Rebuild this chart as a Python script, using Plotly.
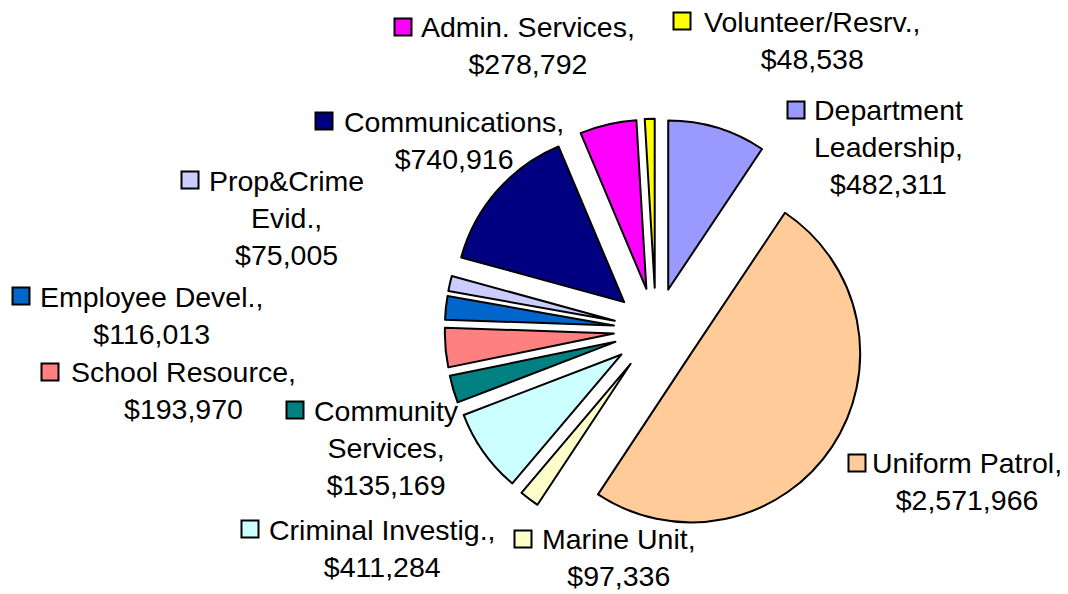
import plotly.graph_objects as go

# Police department budget by division (clockwise from 12 o'clock)
divisions = [
    "Department Leadership", "Uniform Patrol", "Marine Unit", "Criminal Investig.",
    "Community Services", "School Resource", "Employee Devel.", "Prop&Crime Evid.",
    "Communications", "Admin. Services", "Volunteer/Resrv.",
]
budget = [482311, 2571966, 97336, 411284, 135169, 193970, 116013, 75005,
          740916, 278792, 48538]
colors = ["#9999FF", "#FFCC99", "#FFFFCC", "#CCFFFF", "#008080", "#FF8080",
          "#0066CC", "#CCCCFF", "#000080", "#FF00FF", "#FFFF00"]

# Wrapped division names used in the outside labels
label_names = [
    "Department<br>Leadership", "Uniform Patrol", "Marine Unit", "Criminal Investig.",
    "Community<br>Services", "School Resource", "Employee Devel.", "Prop&Crime<br>Evid.",
    "Communications", "Admin. Services", "Volunteer/Resrv.",
]

# Label placement in pixels: text centre (x, y) and key square centre (x, y)
W, H = 1068, 594
label_layout = [
    (888, 147, 796, 110),
    (967, 481, 857, 463),
    (619, 557, 523, 539),
    (382, 548, 250, 529),
    (386, 448, 295, 410),
    (183, 391, 50, 372),
    (151, 315, 21, 296),
    (286, 218, 190, 180),
    (454, 141, 324, 121),
    (528, 45, 403, 27),
    (812, 40, 682, 21),
]
KEY = 17
FONT = "Liberation Sans, Arial, sans-serif"


def px_x(v):
    return v / W


def px_y(v):
    return 1 - v / H


fig = go.Figure(go.Pie(
    labels=divisions,
    values=budget,
    sort=False,
    direction="clockwise",
    rotation=0,
    pull=[0.25] * len(budget),
    marker=dict(colors=colors, line=dict(color="black", width=2)),
    textinfo="none",
    hoverinfo="label+value",
    domain=dict(x=[0.4164, 0.8120], y=[0.0888, 0.8001]),
    showlegend=False,
))

annotations = []
shapes = []
for name, val, col, (tx, ty, sx, sy) in zip(label_names, budget, colors, label_layout):
    annotations.append(dict(
        x=px_x(tx), y=px_y(ty), xref="paper", yref="paper",
        text=f"{name},<br>${val:,}", showarrow=False,
        xanchor="center", yanchor="middle", align="center",
        font=dict(family=FONT, size=28.5, color="black"),
    ))
    shapes.append(dict(
        type="rect", xref="paper", yref="paper",
        x0=px_x(sx - KEY / 2), x1=px_x(sx + KEY / 2),
        y0=px_y(sy + KEY / 2), y1=px_y(sy - KEY / 2),
        fillcolor=col, line=dict(color="black", width=2),
    ))

fig.update_layout(
    width=W, height=H,
    margin=dict(l=0, r=0, t=0, b=0),
    paper_bgcolor="white",
    plot_bgcolor="white",
    annotations=annotations,
    shapes=shapes,
)

fig.write_html("out.html")
